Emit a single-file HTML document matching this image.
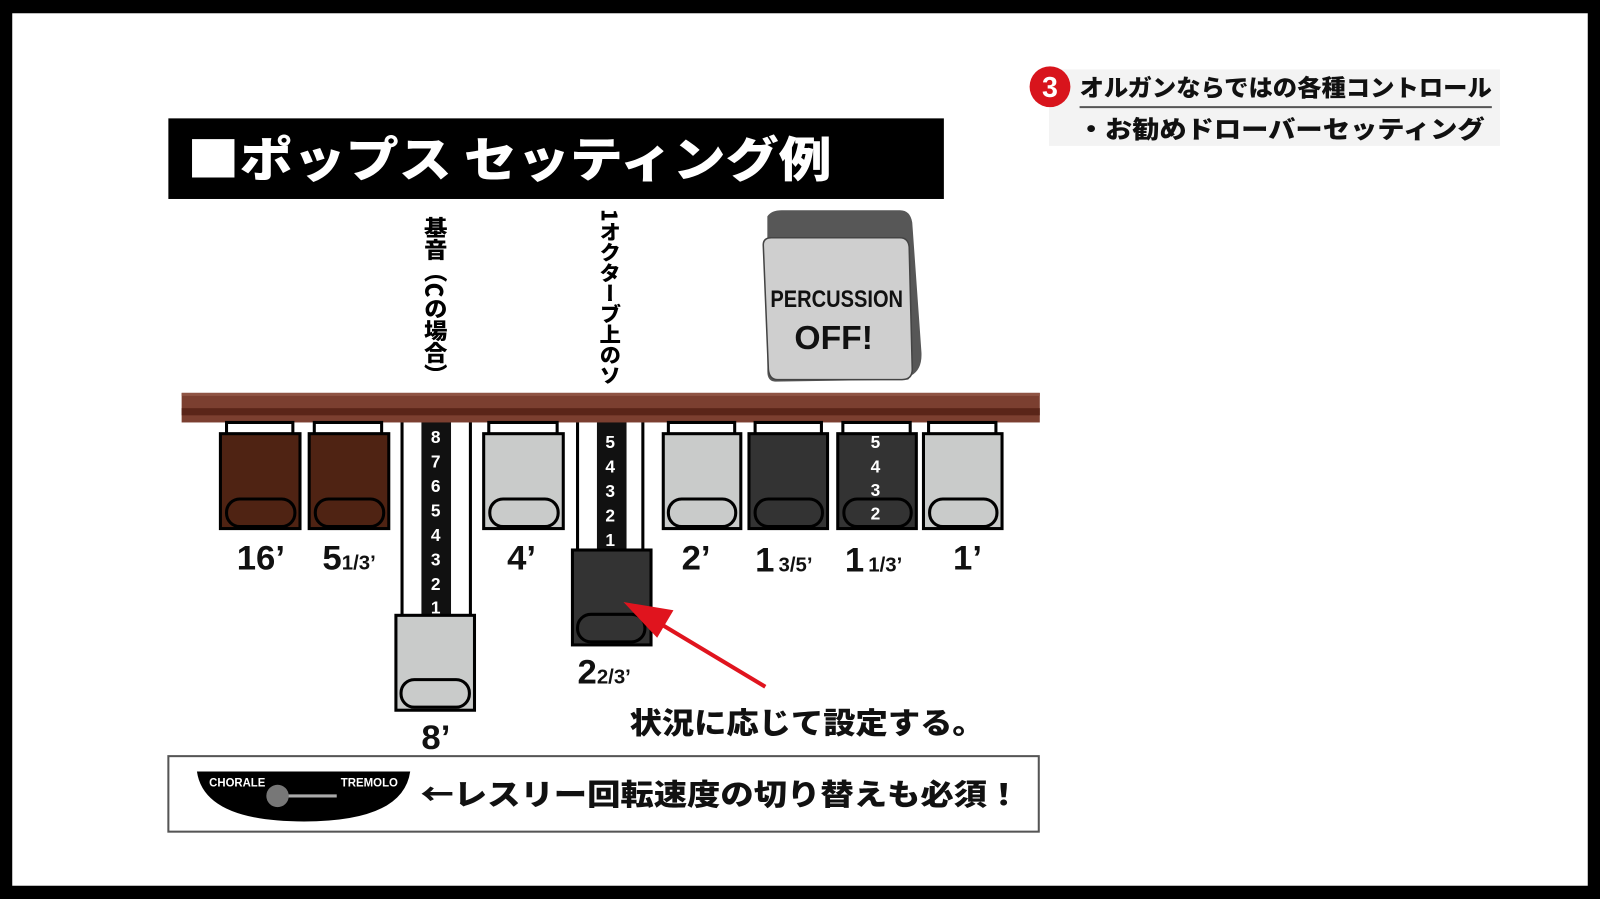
<!DOCTYPE html>
<html><head><meta charset="utf-8"><style>
html,body{margin:0;padding:0;background:#000;width:1600px;height:899px;overflow:hidden}
svg{display:block}
text{font-family:"Liberation Sans","Noto Sans CJK JP",sans-serif;font-weight:bold}
.v{writing-mode:vertical-rl;font-family:"Noto Sans CJK JP",sans-serif;font-weight:900}
.j{font-family:"Noto Sans CJK JP",sans-serif;font-weight:900}
</style></head><body>
<svg width="1600" height="899" viewBox="0 0 1568 881" preserveAspectRatio="none" xmlns="http://www.w3.org/2000/svg">
<rect x="0" y="0" width="1568" height="881" fill="#000"/>
<rect x="12" y="13" width="1544" height="855" fill="#fff"/>

<!-- top right heading -->
<rect x="1028" y="68" width="442" height="75" fill="#f3f3f3"/>
<circle cx="1029" cy="85" r="20" fill="#d8141c"/>
<text x="1029" y="95" font-size="28" fill="#fff" text-anchor="middle">3</text>
<text x="1058" y="94" font-size="23" class="j" fill="#111" textLength="404" lengthAdjust="spacingAndGlyphs">オルガンならではの各種コントロール</text>
<line x1="1058" y1="105" x2="1462" y2="105" stroke="#555" stroke-width="2"/>
<text x="1056" y="135" font-size="24" class="j" fill="#111" textLength="399" lengthAdjust="spacingAndGlyphs">・お勧めドローバーセッティング</text>

<!-- title -->
<rect x="165" y="116" width="760" height="79" fill="#000"/>
<text x="183" y="173" font-size="47" class="j" fill="#fff" textLength="632" lengthAdjust="spacingAndGlyphs">■ポップス セッティング例</text>

<!-- vertical labels -->
<text x="427" y="212" font-size="23" class="v" fill="#000" textLength="166" lengthAdjust="spacingAndGlyphs">基音（Cの場合）</text>
<text x="598" y="205" font-size="21" class="v" fill="#000" textLength="173" lengthAdjust="spacingAndGlyphs">1オクターブ上のソ</text>

<!-- percussion button -->
<path d="M752 212 Q756 206 766 206 L882 206 Q892 206 894 218 L903 345 Q904 362 893 368 L890 372 L760 374 Q752 374 752 364 Z" fill="#575757"/>
<path d="M748 240 Q748 233 756 233 L882 233 Q890 233 891 242 L894 362 Q894 372 884 372 L762 372 Q754 372 753 362 Z" fill="#cfcfcf" stroke="#444" stroke-width="1.5"/>
<text x="820" y="301" font-size="24" text-anchor="middle" fill="#111" textLength="130" lengthAdjust="spacingAndGlyphs">PERCUSSION</text>
<text x="817" y="342" font-size="33" text-anchor="middle" fill="#111">OFF!</text>

<!-- channels -->
<rect x="394" y="410" width="67" height="195" fill="#fff" stroke="#000" stroke-width="3"/>
<rect x="413" y="410" width="29" height="195" fill="#111"/>
<rect x="566" y="410" width="64" height="130" fill="#fff" stroke="#000" stroke-width="3"/>
<rect x="585" y="410" width="29" height="130" fill="#111"/>

<!-- bar -->
<rect x="178" y="385" width="841" height="29" fill="#7b3f30"/>
<rect x="178" y="400" width="841" height="7" fill="#5a2519"/>
<rect x="178" y="385" width="841" height="3" fill="#8f5444"/>

<!-- numbers -->
<g font-size="17" fill="#fff" text-anchor="middle">
<text x="427" y="434">8</text><text x="427" y="458">7</text><text x="427" y="482">6</text><text x="427" y="506">5</text><text x="427" y="530">4</text><text x="427" y="554">3</text><text x="427" y="578">2</text><text x="427" y="601">1</text>
<text x="598" y="439">5</text><text x="598" y="463">4</text><text x="598" y="487">3</text><text x="598" y="511">2</text><text x="598" y="535">1</text>
</g>

<!-- drawbars -->
<g stroke="#000" stroke-width="3">
<rect x="222" y="414" width="65" height="12" fill="#fff"/>
<rect x="308" y="414" width="66" height="12" fill="#fff"/>
<rect x="479" y="414" width="67" height="12" fill="#fff"/>
<rect x="655" y="414" width="65" height="12" fill="#fff"/>
<rect x="740" y="414" width="65" height="12" fill="#fff"/>
<rect x="826" y="414" width="66" height="12" fill="#fff"/>
<rect x="910" y="414" width="66" height="12" fill="#fff"/>

<rect x="216" y="425" width="78" height="93" fill="#4f2313"/>
<rect x="222" y="489" width="67" height="27" rx="13" fill="#4f2313"/>
<rect x="303" y="425" width="78" height="93" fill="#4f2313"/>
<rect x="309" y="489" width="67" height="27" rx="13" fill="#4f2313"/>
<rect x="474" y="425" width="78" height="93" fill="#c9cbca"/>
<rect x="480" y="489" width="67" height="27" rx="13" fill="#c9cbca"/>
<rect x="650" y="425" width="76" height="93" fill="#c9cbca"/>
<rect x="655" y="489" width="66" height="27" rx="13" fill="#c9cbca"/>
<rect x="734" y="425" width="77" height="93" fill="#333"/>
<rect x="740" y="489" width="66" height="27" rx="13" fill="#333"/>
<rect x="821" y="425" width="77" height="93" fill="#333"/>
<rect x="827" y="489" width="66" height="27" rx="13" fill="#333"/>
<rect x="905" y="425" width="77" height="93" fill="#c9cbca"/>
<rect x="911" y="489" width="66" height="27" rx="13" fill="#c9cbca"/>

<rect x="388" y="603" width="77" height="93" fill="#c9cbca"/>
<rect x="393" y="666" width="67" height="27" rx="13" fill="#c9cbca"/>
<rect x="561" y="539" width="77" height="93" fill="#333"/>
<rect x="566" y="602" width="66" height="27" rx="13" fill="#333"/>
</g>
<g font-size="17" fill="#fff" text-anchor="middle">
<text x="858" y="439">5</text><text x="858" y="463">4</text><text x="858" y="486">3</text><text x="858" y="509">2</text>
</g>

<!-- footage labels -->
<g fill="#111">
<text x="232" y="558" font-size="34">16’</text>
<text x="316" y="558" font-size="34">5<tspan font-size="20">1/3’</tspan></text>
<text x="497" y="558" font-size="34">4’</text>
<text x="668" y="558" font-size="34">2’</text>
<text x="740" y="560" font-size="34">1<tspan font-size="20" dx="4">3/5’</tspan></text>
<text x="828" y="560" font-size="34">1<tspan font-size="20" dx="4">1/3’</tspan></text>
<text x="934" y="558" font-size="34">1’</text>
<text x="566" y="670" font-size="34">2<tspan font-size="20">2/3’</tspan></text>
<text x="413" y="734" font-size="34">8’</text>
</g>

<!-- red arrow -->
<line x1="750" y1="673" x2="640" y2="607" stroke="#e0141e" stroke-width="4"/>
<polygon points="611,590 660,598 644,625" fill="#e0141e"/>
<text x="617" y="719" font-size="29" class="j" fill="#111" textLength="348" lengthAdjust="spacingAndGlyphs">状況に応じて設定する。</text>

<!-- bottom box -->
<rect x="165" y="741" width="853" height="74" fill="#fff" stroke="#555" stroke-width="2"/>
<path d="M193 756 L402 756 Q395 805 298 805 Q200 805 193 756 Z" fill="#000"/>
<text x="205" y="771" font-size="12" fill="#fff" textLength="55" lengthAdjust="spacingAndGlyphs">CHORALE</text>
<text x="334" y="771" font-size="12" fill="#fff" textLength="56" lengthAdjust="spacingAndGlyphs">TREMOLO</text>
<line x1="272" y1="780" x2="330" y2="780" stroke="#aaa" stroke-width="3"/>
<circle cx="272" cy="780" r="11" fill="#777"/>
<text x="412" y="789" font-size="29" class="j" fill="#111" textLength="588" lengthAdjust="spacingAndGlyphs">←レスリー回転速度の切り替えも必須！</text>
</svg>
</body></html>
